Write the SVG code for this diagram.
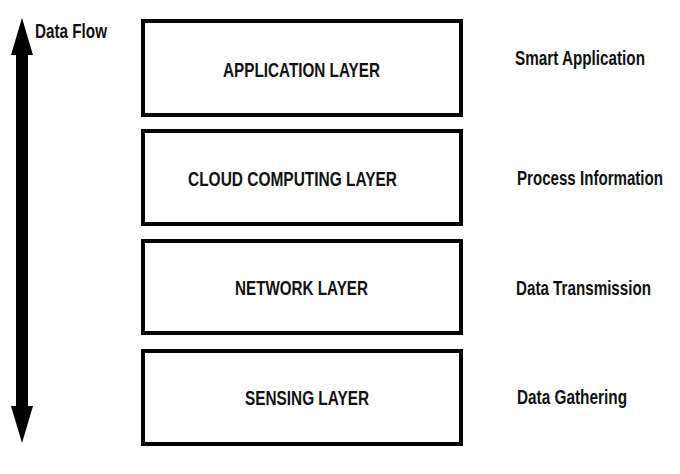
<svg xmlns="http://www.w3.org/2000/svg" width="680" height="474" viewBox="0 0 680 474">
  <style>
    .box { fill: #ffffff; stroke: #000000; stroke-width: 4; }
    .lbl { font-family: "Liberation Sans", Arial, sans-serif; font-weight: bold; font-size: 21px; fill: #111111; }
    .flow { stroke: #000000; stroke-width: 12; fill: none; }
  </style>
  <defs>
    <marker id="head" markerUnits="userSpaceOnUse" markerWidth="40" markerHeight="24" refX="0" refY="0" orient="auto-start-reverse" overflow="visible">
      <path d="M0,-11 L37,0 L0,11 Z" fill="#000000"/>
    </marker>
  </defs>
  <rect width="680" height="474" fill="#ffffff"/>

  <g id="connectors">
    <line class="flow" x1="22" y1="55" x2="22" y2="406" marker-start="url(#head)" marker-end="url(#head)"/>
  </g>

  <g id="data-flow-label">
    <text class="lbl" transform="translate(35,38) scale(0.75,1)" textLength="96" lengthAdjust="spacingAndGlyphs">Data Flow</text>
  </g>

  <g id="application-layer">
    <rect class="box" x="143" y="21" width="318" height="94"/>
    <text class="lbl" transform="translate(223,77) scale(0.75,1)" textLength="209.3" lengthAdjust="spacingAndGlyphs">APPLICATION LAYER</text>
  </g>
  <g id="cloud-computing-layer">
    <rect class="box" x="143" y="131" width="318" height="93"/>
    <text class="lbl" transform="translate(188,186) scale(0.75,1)" textLength="278.7" lengthAdjust="spacingAndGlyphs">CLOUD COMPUTING LAYER</text>
  </g>
  <g id="network-layer">
    <rect class="box" x="143" y="241" width="318" height="92"/>
    <text class="lbl" transform="translate(235,295) scale(0.75,1)" textLength="177.3" lengthAdjust="spacingAndGlyphs">NETWORK LAYER</text>
  </g>
  <g id="sensing-layer">
    <rect class="box" x="143" y="351" width="318" height="93"/>
    <text class="lbl" transform="translate(245,405) scale(0.75,1)" textLength="165.3" lengthAdjust="spacingAndGlyphs">SENSING LAYER</text>
  </g>

  <g id="smart-application">
    <text class="lbl" transform="translate(515,65) scale(0.75,1)" textLength="173.3" lengthAdjust="spacingAndGlyphs">Smart Application</text>
  </g>
  <g id="process-information">
    <text class="lbl" transform="translate(517,185) scale(0.75,1)" textLength="194.7" lengthAdjust="spacingAndGlyphs">Process Information</text>
  </g>
  <g id="data-transmission">
    <text class="lbl" transform="translate(516,295) scale(0.75,1)" textLength="180" lengthAdjust="spacingAndGlyphs">Data Transmission</text>
  </g>
  <g id="data-gathering">
    <text class="lbl" transform="translate(517,404) scale(0.75,1)" textLength="146.7" lengthAdjust="spacingAndGlyphs">Data Gathering</text>
  </g>
</svg>
